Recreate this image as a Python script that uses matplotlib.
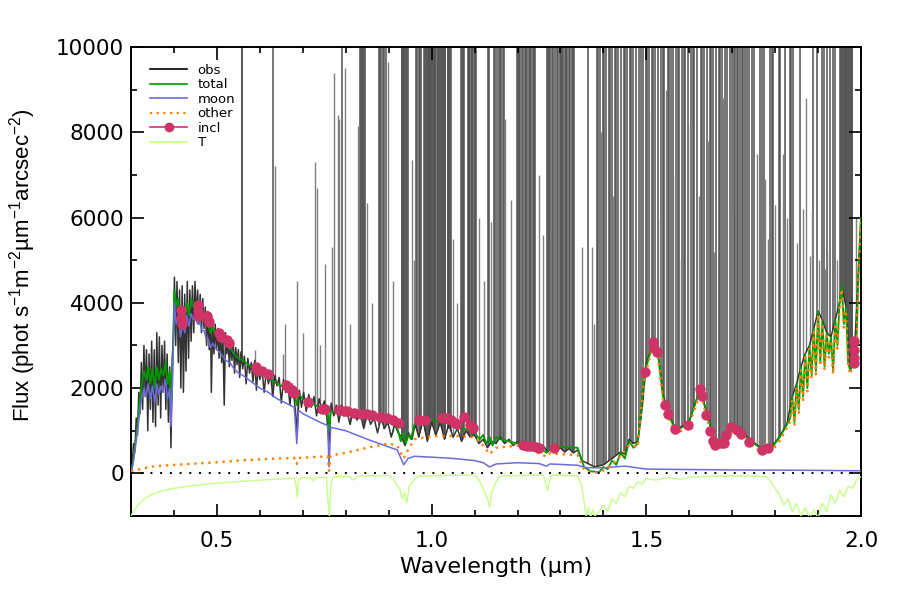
import numpy as np
import matplotlib
matplotlib.use("Agg")
import matplotlib.pyplot as plt
from matplotlib.lines import Line2D
from matplotlib.legend_handler import HandlerLine2D

plt.rcParams['font.family'] = ['DejaVu Sans']
plt.rcParams['mathtext.default'] = 'regular'

# ------------------------------------------------------------------
# observed spectrum: continuum part (read off the picture)
# ------------------------------------------------------------------
obs_wl = [0.300, 0.303, 0.306, 0.309, 0.312, 0.315, 0.318, 0.321, 0.324, 0.327,
          0.330, 0.333, 0.336, 0.339, 0.342, 0.345, 0.348, 0.351, 0.354, 0.357,
          0.360, 0.363, 0.366, 0.369, 0.372, 0.375, 0.378, 0.381, 0.384, 0.387,
          0.390, 0.393, 0.396, 0.399, 0.401, 0.404, 0.407, 0.410, 0.413, 0.416,
          0.419, 0.422, 0.425, 0.428, 0.431, 0.434, 0.437, 0.440, 0.443, 0.446,
          0.449, 0.452, 0.455, 0.458, 0.461, 0.464, 0.467, 0.470, 0.473, 0.476,
          0.479, 0.482, 0.485, 0.487, 0.490, 0.493, 0.496, 0.499, 0.502, 0.505,
          0.508, 0.511, 0.514, 0.517, 0.520, 0.523, 0.526, 0.529, 0.532, 0.535,
          0.538, 0.541, 0.544, 0.547, 0.550, 0.553, 0.556, 0.560, 0.564, 0.568,
          0.572, 0.576, 0.580, 0.584, 0.588, 0.592, 0.596, 0.600, 0.605, 0.610,
          0.615, 0.620, 0.625, 0.630, 0.635, 0.640, 0.645, 0.650, 0.655, 0.660,
          0.665, 0.670, 0.675, 0.680, 0.687, 0.692, 0.697, 0.702, 0.708, 0.714,
          0.720, 0.726, 0.732, 0.738, 0.744, 0.750, 0.756, 0.761, 0.766, 0.772,
          0.778, 0.784, 0.790, 0.796, 0.802, 0.810, 0.818, 0.826, 0.834, 0.842,
          0.850, 0.858, 0.866, 0.874, 0.882, 0.890, 0.898, 0.906, 0.914, 0.922,
          0.930, 0.938, 0.946, 0.954, 0.962, 0.970, 0.980, 0.990, 1.000, 1.010,
          1.020, 1.030, 1.040, 1.050, 1.060, 1.070, 1.080, 1.090, 1.100, 1.110,
          1.120, 1.130, 1.140, 1.150, 1.160, 1.170, 1.180, 1.190, 1.200, 1.210,
          1.220, 1.230, 1.240, 1.250, 1.260, 1.270, 1.280, 1.290, 1.300, 1.310,
          1.320, 1.330, 1.340, 1.350, 1.360, 1.380, 1.400, 1.420, 1.440, 1.450,
          1.460, 1.470, 1.480, 1.490, 1.500, 1.515, 1.527, 1.539, 1.551, 1.567,
          1.597, 1.626, 1.641, 1.653, 1.660, 1.672, 1.691, 1.702, 1.725, 1.746,
          1.772, 1.792, 1.811, 1.828, 1.840, 1.850, 1.860, 1.870, 1.880, 1.890,
          1.900, 1.910, 1.920, 1.930, 1.940, 1.950, 1.955, 1.965, 1.975, 1.985,
          1.995, 2.000]
obs_flux = [0, 300, 700, 500, 1300, 900, 1900, 1400, 2600, 1500,
            3000, 1800, 2900, 1000, 2800, 1500, 3100, 1200, 2900, 1100,
            3300, 1600, 3200, 1300, 3000, 1900, 3100, 1500, 2800, 1200,
            2500, 600, 2700, 3300, 4600, 3000, 4500, 2600, 4300, 2000,
            4400, 1900, 4200, 2400, 4500, 2700, 4300, 3100, 4400, 3300,
            4500, 3600, 4300, 3500, 4200, 3300, 4100, 3400, 3900, 3000,
            3800, 2900, 3700, 1900, 3600, 2800, 3500, 2900, 3400, 2700,
            3300, 2600, 3200, 1600, 3300, 2800, 3150, 2500, 3050, 2650,
            3100, 2350, 2950, 2550, 2900, 2250, 2850, 2450, 2750, 2100,
            2700, 2350, 2600, 2150, 2650, 1950, 2500, 2200, 2450, 1900,
            2400, 2100, 2350, 1800, 2300, 2050, 2250, 1650, 2200, 1900,
            2150, 1600, 2100, 1750, 1000, 1950, 1550, 1900, 1450, 1850,
            1550, 1800, 1350, 1750, 1500, 1700, 1300, 700, 1650, 1350,
            1600, 1200, 1600, 1350, 1500, 1150, 1500, 1250, 1400, 1050,
            1400, 1150, 1300, 950, 1300, 1050, 1200, 850, 1150, 950,
            850, 650, 950, 800, 1150, 850, 1250, 750, 1200, 900,
            1200, 800, 1150, 850, 1050, 750, 1000, 850, 900, 700,
            800, 600, 750, 700, 850, 700, 800, 650, 750, 650,
            700, 600, 650, 550, 650, 500, 600, 520, 600, 500,
            580, 480, 550, 300, 250, 150, 200, 350, 500, 450,
            800, 700, 750, 1500, 2600, 3000, 2850, 1850, 1450, 1050,
            1150, 2000, 1400, 1000, 700, 720, 920, 1100, 950, 760,
            560, 620, 870, 1180, 1800, 2100, 2500, 2800, 3000, 3400,
            3800, 3600, 3300, 3200, 3600, 4000, 4400, 3900, 2400, 2900,
            5000, 6000]

# sky emission lines running off the top of the plot (wavelengths only)
sky_strong = [0.5577, 0.5580, 0.6300,
              0.7910, 0.8330, 0.8350, 0.8370, 0.8400, 0.8430, 0.8450,
              0.8780, 0.8800, 0.8830, 0.8860, 0.8900, 0.8930,
              0.9300, 0.9315, 0.9330, 0.9350, 0.9370, 0.9400, 0.9420, 0.9440,
              0.9640, 0.9660, 0.9700, 0.9725, 0.9750,
              0.9830, 0.9850, 0.9870, 0.9890, 0.9910, 0.9930, 0.9950, 0.9970,
              0.9990, 1.0010, 1.0030, 1.0050, 1.0070, 1.0090, 1.0120, 1.0140,
              1.0170, 1.0190, 1.0220, 1.0240, 1.0260, 1.0280, 1.0300, 1.0320,
              1.0370, 1.0390, 1.0410, 1.0430, 1.0450,
              1.0690, 1.0710, 1.0730, 1.0760, 1.0840, 1.0860, 1.0880, 1.0900,
              1.0930, 1.0950, 1.0980, 1.1000, 1.1030,
              1.1310, 1.1330, 1.1460, 1.1480, 1.1530, 1.1560, 1.1590, 1.1610,
              1.1670, 1.1690,
              1.1980, 1.2000, 1.2040, 1.2060, 1.2100, 1.2130, 1.2180, 1.2200,
              1.2230, 1.2260, 1.2290, 1.2320, 1.2350, 1.2380, 1.2410,
              1.2680, 1.2700, 1.2740, 1.2760, 1.2800, 1.2830, 1.2880, 1.2910,
              1.2950, 1.2980, 1.3010, 1.3040, 1.3070, 1.3100, 1.3130, 1.3160,
              1.3190, 1.3230, 1.3260, 1.3290, 1.3320, 1.3650,
              1.3840, 1.3870, 1.3920, 1.3990, 1.4010, 1.4060, 1.4120, 1.4150,
              1.4190, 1.4270, 1.4290, 1.4340, 1.4410, 1.4480, 1.4500, 1.4560,
              1.4630, 1.4650, 1.4700, 1.4770, 1.4840, 1.4870, 1.4920, 1.4990,
              1.5020, 1.5060, 1.5140, 1.5160, 1.5210, 1.5280, 1.5350, 1.5390,
              1.5420, 1.5500, 1.5530, 1.5570, 1.5630, 1.5700, 1.5730, 1.5770,
              1.5840, 1.5880, 1.5910, 1.5980, 1.6050, 1.6080, 1.6120, 1.6190,
              1.6270, 1.6300, 1.6340, 1.6410, 1.6480, 1.6510, 1.6550, 1.6620,
              1.6690, 1.6720, 1.6760, 1.6830, 1.6870, 1.6950, 1.6990, 1.7040,
              1.7070, 1.7110, 1.7140, 1.7180, 1.7220, 1.7250, 1.7300, 1.7350,
              1.7400, 1.7450, 1.7500, 1.7650, 1.7700, 1.7730, 1.7880, 1.7920,
              1.7960, 1.8080, 1.8120, 1.8230, 1.8350, 1.8380, 1.8420, 1.8580,
              1.8890, 1.8970, 1.9080, 1.9130, 1.9200, 1.9280, 1.9340, 1.9400,
              1.9500, 1.9530, 1.9560, 1.9580, 1.9600, 1.9620, 1.9640, 1.9660,
              1.9680, 1.9700, 1.9720, 1.9740, 1.9760, 1.9780, 1.9800]

# weaker sky lines with their peak flux
sky_weak_wl = [0.5890, 0.6364, 0.6530, 0.6580, 0.6870, 0.7000, 0.7276, 0.7330,
               0.7400, 0.7526, 0.7690, 0.7715, 0.7810, 0.7850, 0.7990, 0.8100,
               0.8290, 0.8500, 0.8620, 0.8985, 0.9090, 0.9540, 0.9600, 1.0500,
               1.0600, 1.1110, 1.1220, 1.1380, 1.1720, 1.1860, 1.2500, 1.2600,
               1.3495, 1.3730, 1.3780, 1.3955, 1.4225, 1.4530, 1.4735, 1.5100,
               1.5320, 1.5460, 1.5660, 1.5810, 1.6015, 1.6230, 1.6440, 1.6585,
               1.6795, 1.7005, 1.7580, 1.7760, 1.7830, 1.8000, 1.8180, 1.8270,
               1.8500, 1.8650, 1.8730, 1.8800, 1.8850, 1.9030, 1.9160, 1.9250,
               1.9380, 1.9450, 1.9880]
sky_weak_peak = [2900, 7200, 2800, 3500, 4500, 3300, 7300, 6700,
                 3000, 4900, 5300, 9400, 8400, 8300, 9500, 3500,
                 8150, 6350, 4000, 9650, 4500, 7350, 5000, 5500,
                 4000, 6000, 4500, 5900, 8300, 6400, 7000, 5600,
                 5300, 5300, 3500, 8000, 6500, 7500, 5500, 8500,
                 6000, 9000, 7000, 5000, 8200, 6500, 7800, 5200,
                 8800, 6200, 7500, 6900, 5500, 6300, 7500, 6000,
                 5400, 6200, 8800, 5100, 6100, 5000, 4800, 5200,
                 4700, 5000, 6000]

# ------------------------------------------------------------------
# model components
# ------------------------------------------------------------------
total_wl = [0.300, 0.305, 0.310, 0.315, 0.320, 0.325, 0.330, 0.335, 0.340, 0.345,
            0.350, 0.355, 0.360, 0.365, 0.370, 0.375, 0.380, 0.385, 0.390, 0.393,
            0.397, 0.401, 0.405, 0.410, 0.415, 0.420, 0.425, 0.430, 0.435, 0.440,
            0.445, 0.450, 0.455, 0.460, 0.465, 0.470, 0.475, 0.480, 0.485, 0.490,
            0.500, 0.510, 0.520, 0.530, 0.540, 0.550, 0.560, 0.580, 0.600, 0.620,
            0.640, 0.660, 0.680, 0.686, 0.690, 0.700, 0.720, 0.740, 0.758, 0.761,
            0.765, 0.800, 0.850, 0.900, 0.915, 0.922, 0.928, 0.934, 0.940, 0.946,
            0.952, 0.960, 1.000, 1.050, 1.100, 1.112, 1.120, 1.127, 1.135, 1.142,
            1.150, 1.160, 1.200, 1.250, 1.268, 1.275, 1.300, 1.340, 1.355, 1.370,
            1.390, 1.400, 1.410, 1.420, 1.430, 1.440, 1.450, 1.460, 1.470, 1.480,
            1.495, 1.516, 1.527, 1.539, 1.551, 1.567, 1.597, 1.626, 1.641, 1.653,
            1.660, 1.672, 1.691, 1.702, 1.725, 1.746, 1.772, 1.792, 1.811, 1.828,
            1.835, 1.840, 1.845, 1.850, 1.855, 1.860, 1.865, 1.870, 1.875, 1.880,
            1.885, 1.890, 1.895, 1.900, 1.905, 1.910, 1.915, 1.920, 1.925, 1.930,
            1.935, 1.940, 1.945, 1.950, 1.955, 1.960, 1.965, 1.970, 1.975, 1.980,
            1.985, 1.990, 1.995, 2.000]
total_flux = [0, 300, 700, 1100, 1700, 2100, 2400, 2200, 2500, 2100,
              2450, 2000, 2500, 2200, 2450, 2300, 2600, 2100, 2400, 1400,
              2700, 4300, 3900, 4100, 3500, 3800, 3600, 4000, 3700, 4100,
              3900, 4000, 3800, 3900, 3700, 3700, 3500, 3500, 3300, 3400,
              3250, 3150, 3000, 2950, 2800, 2700, 2650, 2500, 2350, 2250,
              2100, 2000, 1900, 1600, 1850, 1750, 1640, 1550, 1500, 1000,
              1450, 1430, 1350, 1250, 1150, 1000, 750, 950, 700, 900,
              800, 1150, 1250, 1150, 950, 800, 900, 700, 850, 650,
              850, 800, 700, 620, 480, 600, 620, 600, 150, 50,
              30, 150, 100, 300, 200, 480, 350, 750, 600, 700,
              2300, 3100, 2800, 1800, 1400, 1020, 1130, 1990, 1360, 970,
              660, 700, 890, 1090, 930, 740, 540, 600, 850, 1160,
              1300, 1800, 1200, 2100, 1500, 2500, 1800, 2800, 2000, 3000,
              2300, 3400, 2400, 3800, 2600, 3600, 2500, 3300, 2800, 3200,
              2400, 3600, 3000, 4000, 4400, 3500, 3900, 2600, 2400, 2700,
              2900, 3300, 5000, 6000]

moon_wl = [0.300, 0.305, 0.310, 0.315, 0.320, 0.325, 0.330, 0.335, 0.340, 0.345,
           0.350, 0.355, 0.360, 0.365, 0.370, 0.375, 0.380, 0.385, 0.390, 0.393,
           0.397, 0.401, 0.405, 0.410, 0.415, 0.420, 0.425, 0.430, 0.435, 0.440,
           0.445, 0.450, 0.455, 0.460, 0.465, 0.470, 0.475, 0.480, 0.485, 0.490,
           0.500, 0.510, 0.520, 0.530, 0.540, 0.550, 0.560, 0.580, 0.600, 0.620,
           0.640, 0.660, 0.680, 0.686, 0.690, 0.700, 0.720, 0.740, 0.758, 0.761,
           0.765, 0.800, 0.850, 0.900, 0.920, 0.935, 0.945, 0.960, 1.000, 1.050,
           1.100, 1.120, 1.135, 1.150, 1.200, 1.250, 1.268, 1.275, 1.300, 1.340,
           1.360, 1.400, 1.450, 1.500, 1.600, 1.700, 1.800, 1.900, 2.000]
moon_flux = [0, 250, 600, 1000, 1400, 1800, 2000, 1800, 2100, 1750,
             2050, 1650, 2100, 1850, 2050, 1900, 2200, 1750, 2000, 1100,
             2300, 4000, 3500, 3700, 3200, 3500, 3300, 3700, 3450, 3750,
             3600, 3650, 3500, 3550, 3350, 3350, 3150, 3150, 2950, 3050,
             2900, 2800, 2650, 2600, 2450, 2350, 2300, 2150, 2000, 1900,
             1750, 1650, 1550, 700, 1480, 1400, 1300, 1200, 1120, 150,
             1080, 1000, 800, 620, 550, 200, 350, 400, 380, 350,
             300, 250, 150, 220, 250, 230, 170, 220, 210, 190,
             130, 130, 170, 100, 90, 80, 75, 70, 60]

other_wl = [0.300, 0.330, 0.350, 0.400, 0.450, 0.500, 0.550, 0.600, 0.650, 0.680,
            0.686, 0.690, 0.720, 0.758, 0.761, 0.765, 0.800, 0.850, 0.900, 0.920,
            0.935, 0.945, 0.960, 1.000, 1.050, 1.100, 1.120, 1.135, 1.150, 1.200,
            1.250, 1.268, 1.275, 1.300, 1.340, 1.355, 1.370, 1.390, 1.410, 1.440,
            1.460, 1.480, 1.495, 1.516, 1.527, 1.539, 1.551, 1.567, 1.597, 1.626,
            1.641, 1.653, 1.660, 1.672, 1.691, 1.702, 1.725, 1.746, 1.772, 1.792,
            1.811, 1.828, 1.835, 1.840, 1.845, 1.850, 1.855, 1.860, 1.865, 1.870,
            1.875, 1.880, 1.885, 1.890, 1.895, 1.900, 1.905, 1.910, 1.915, 1.920,
            1.925, 1.930, 1.935, 1.940, 1.945, 1.950, 1.955, 1.960, 1.965, 1.970,
            1.975, 1.980, 1.985, 1.990, 1.995, 2.000]
other_flux = [50, 120, 160, 200, 230, 260, 300, 330, 350, 360,
              220, 360, 380, 400, 60, 420, 480, 600, 700, 650,
              350, 550, 800, 870, 880, 850, 650, 450, 600, 650,
              470, 390, 470, 450, 430, 100, 30, 20, 120, 400,
              670, 620, 2220, 3020, 2720, 1720, 1320, 940, 1050, 1910,
              1280, 890, 580, 620, 810, 1010, 850, 660, 460, 520,
              770, 1080, 1220, 1720, 1120, 2020, 1420, 2420, 1720, 2720,
              1920, 2920, 2220, 3320, 2320, 3720, 2520, 3520, 2420, 3220,
              2720, 3120, 2320, 3520, 2920, 3920, 4320, 3420, 3820, 2520,
              2320, 2620, 2820, 3220, 4920, 5920]

telluric_wl = [0.300, 0.305, 0.310, 0.320, 0.330, 0.340, 0.350, 0.370, 0.400, 0.450,
               0.500, 0.550, 0.600, 0.650, 0.680, 0.684, 0.687, 0.690, 0.700, 0.720,
               0.725, 0.730, 0.755, 0.759, 0.762, 0.765, 0.770, 0.810, 0.815, 0.822,
               0.830, 0.900, 0.910, 0.925, 0.932, 0.937, 0.942, 0.948, 0.960, 0.970,
               1.100, 1.110, 1.120, 1.130, 1.135, 1.140, 1.150, 1.160, 1.260, 1.265,
               1.270, 1.275, 1.280, 1.340, 1.350, 1.355, 1.360, 1.365, 1.370, 1.375,
               1.380, 1.390, 1.400, 1.410, 1.420, 1.430, 1.440, 1.450, 1.460, 1.470,
               1.480, 1.490, 1.500, 1.520, 1.550, 1.580, 1.600, 1.650, 1.700, 1.750,
               1.780, 1.790, 1.800, 1.810, 1.820, 1.830, 1.840, 1.850, 1.860, 1.870,
               1.880, 1.890, 1.900, 1.910, 1.920, 1.930, 1.940, 1.950, 1.960, 1.970,
               1.980, 1.990, 2.000]
telluric_flux = [-1000, -900, -820, -700, -610, -540, -490, -420, -350, -280,
                 -230, -190, -160, -130, -110, -250, -550, -150, -100, -110,
                 -180, -100, -90, -700, -1000, -300, -80, -70, -160, -120,
                 -60, -50, -130, -350, -600, -450, -700, -300, -150, -60,
                 -40, -150, -350, -600, -800, -450, -200, -60, -40, -200,
                 -400, -150, -40, -60, -300, -700, -1000, -800, -1050, -850,
                 -1000, -900, -750, -900, -600, -700, -450, -550, -300, -350,
                 -200, -250, -120, -160, -100, -140, -90, -70, -60, -60,
                 -80, -200, -350, -500, -750, -600, -900, -700, -1000, -800,
                 -1050, -850, -1050, -700, -900, -500, -700, -400, -550, -300,
                 -350, -150, -80]

# points included in the fit
incl_wl = [0.416, 0.417, 0.418, 0.455, 0.456, 0.457, 0.476, 0.479, 0.481, 0.506,
           0.509, 0.523, 0.527, 0.591, 0.594, 0.604, 0.620, 0.661, 0.668, 0.675,
           0.680, 0.711, 0.745, 0.752, 0.785, 0.795, 0.803, 0.820, 0.835, 0.850,
           0.862, 0.880, 0.895, 0.910, 0.925, 0.970, 0.985, 1.025, 1.035, 1.045,
           1.055, 1.060, 1.075, 1.090, 1.097, 1.212, 1.222, 1.232, 1.242, 1.250,
           1.284, 1.497, 1.516, 1.518, 1.524, 1.543, 1.551, 1.567, 1.597, 1.626,
           1.630, 1.640, 1.649, 1.656, 1.660, 1.675, 1.680, 1.685, 1.697, 1.710,
           1.720, 1.740, 1.770, 1.783, 1.983, 1.983, 1.984, 1.984]
incl_flux = [3830, 3650, 3500, 3950, 3800, 3700, 3700, 3600, 3550, 3300,
             3200, 3120, 3050, 2500, 2420, 2400, 2330, 2070, 2000, 1950,
             1880, 1680, 1520, 1500, 1480, 1470, 1460, 1420, 1400, 1390,
             1380, 1330, 1300, 1260, 1180, 1250, 1240, 1300, 1300, 1260,
             1180, 1150, 1320, 1140, 1060, 660, 640, 630, 610, 590,
             600, 2380, 3080, 2930, 2850, 1600, 1400, 1030, 1130, 1990,
             1810, 1380, 1000, 770, 660, 710, 720, 890, 1090, 1010,
             920, 740, 540, 600, 3100, 2900, 2700, 2600]

# ------------------------------------------------------------------
c_obs = '#333333'
c_total = '#009900'
c_moon = '#6b6bdc'
c_other = '#ff8000'
c_incl = '#d03366'
c_T = '#c4ff88'

fig = plt.figure(figsize=(9, 6), dpi=100)
ax = fig.add_axes([0.1456, 0.14, 0.8111, 0.7817])

# sky lines start from the observed continuum under them
strong_base = np.interp(sky_strong, obs_wl, obs_flux)
weak_base = np.interp(sky_weak_wl, obs_wl, obs_flux)
ax.vlines(sky_strong, strong_base, 10500, color='#505050', lw=1.1, zorder=1)
ax.vlines(sky_weak_wl, weak_base, sky_weak_peak, color='#808080', lw=1.0, zorder=1)
ax.plot(obs_wl, obs_flux, color=c_obs, lw=1.1, zorder=2)

ax.plot(total_wl, total_flux, color=c_total, lw=1.3, zorder=3)
ax.plot(moon_wl, moon_flux, color=c_moon, lw=1.1, zorder=3)
ax.plot(other_wl, other_flux, color=c_other, lw=1.7, ls=(0, (1, 2)), zorder=4)
ax.plot(incl_wl, incl_flux, ls='none', marker='o', ms=6.5, color=c_incl, zorder=5)
ax.plot(telluric_wl, telluric_flux, color=c_T, lw=1.0, zorder=3)
ax.axhline(0, color='black', lw=1.4, ls=(0, (1, 4)), zorder=4)

ax.set_xlim(0.3, 2.0)
ax.set_ylim(-1000, 10000)
ax.set_xticks([0.5, 1.0, 1.5, 2.0])
ax.set_xticklabels(['0.5', '1.0', '1.5', '2.0'])
ax.set_xticks(np.arange(0.4, 2.0, 0.1), minor=True)
ax.set_yticks([0, 2000, 4000, 6000, 8000, 10000])
ax.set_yticks(np.arange(-1000, 10001, 1000), minor=True)
ax.tick_params(which='both', direction='in', top=True, right=True,
               labelsize=15.5, width=1.2)
ax.tick_params(axis='x', pad=11)
ax.tick_params(axis='y', pad=5)
ax.tick_params(which='major', length=9)
ax.tick_params(which='minor', length=4.5)
for s in ax.spines.values():
    s.set_linewidth(1.4)

ax.set_xlabel('Wavelength (\u00b5m)', fontsize=16, labelpad=4)
ax.set_ylabel('Flux (phot s$^{-1}$m$^{-2}$\u00b5m$^{-1}$arcsec$^{-2}$)',
              fontsize=16, labelpad=10, family='Liberation Sans')
ax.yaxis.set_label_coords(-0.127, 0.535)


class LeftMarker(HandlerLine2D):
    def get_xdata(self, legend, xdescent, ydescent, width, height, fontsize):
        xd, xm = super().get_xdata(legend, xdescent, ydescent, width, height, fontsize)
        return xd, [xd[0]]


h_incl = Line2D([], [], color=c_incl, lw=1.2, marker='o', ms=6)
handles = [Line2D([], [], color='black', lw=1.2),
           Line2D([], [], color=c_total, lw=1.2),
           Line2D([], [], color=c_moon, lw=1.2),
           Line2D([], [], color=c_other, lw=1.6, ls=(0, (1, 2))),
           h_incl,
           Line2D([], [], color=c_T, lw=1.2)]
labels = ['obs', 'total', 'moon', 'other', 'incl', 'T']
ax.legend(handles, labels, loc='upper left', bbox_to_anchor=(0.01, 0.99),
          frameon=False, fontsize=9.5, handlelength=2.8, handletextpad=0.8,
          labelspacing=0.12, numpoints=1,
          handler_map={h_incl: LeftMarker(numpoints=1)})

fig.savefig('out.png', dpi=100)
